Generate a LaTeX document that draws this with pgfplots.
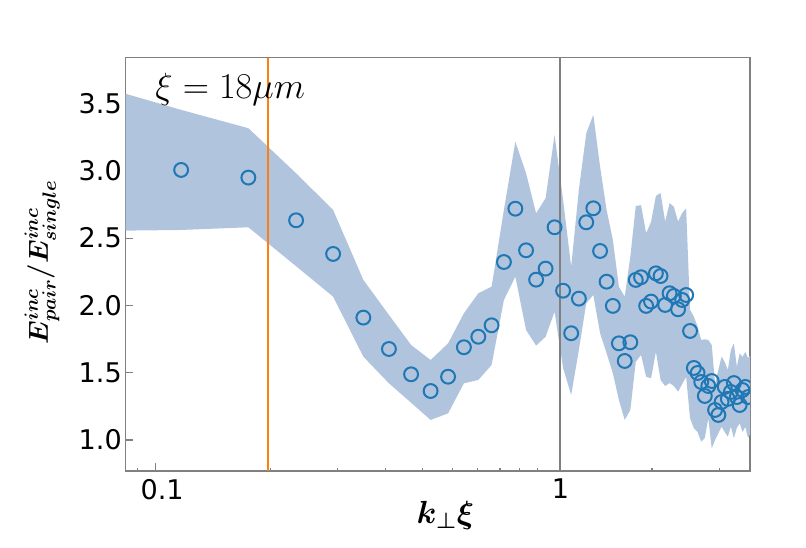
\documentclass[border=0pt]{standalone}
\usepackage{fix-cm}
\usepackage{fontspec}
\setmainfont{DejaVu Sans}
\usepackage{amsmath,bm}
\usepackage{pgfplots}
\pgfplotsset{compat=1.18}
\usepgfplotslibrary{fillbetween}
\usepackage{pgfplotstable}
\definecolor{band}{HTML}{B0C4DE}
\definecolor{mblue}{HTML}{1F77B4}
\definecolor{morange}{HTML}{FF7F0E}
\definecolor{spine}{HTML}{808080}

% x = n*0.0585, mean, upper, lower
\pgfplotstableread{
x y up lo
0.0585 3.100 3.700 2.550
0.1170 3.006 3.452 2.560
0.1755 2.949 3.316 2.580
0.2340 2.632 2.981 2.291
0.2925 2.382 2.709 2.065
0.3510 1.909 2.189 1.619
0.4095 1.676 1.929 1.421
0.4680 1.488 1.706 1.277
0.5265 1.364 1.594 1.149
0.5850 1.470 1.718 1.198
0.6435 1.689 1.941 1.421
0.7020 1.767 2.090 1.446
0.7605 1.852 2.139 1.557
0.8190 2.322 2.709 2.040
0.8775 2.718 3.216 2.213
0.9360 2.409 2.981 1.817
0.9945 2.191 2.684 1.701
1.0530 2.273 2.796 1.767
1.1115 2.580 3.266 1.953
1.1700 2.109 2.783 1.535
1.2285 1.793 2.288 1.334
1.2870 2.050 2.860 1.669
1.3455 2.617 3.278 2.016
1.4040 2.721 3.415 2.077
1.4625 2.404 3.030 1.793
1.5210 2.176 2.709 1.644
1.5795 1.996 2.486 1.496
1.6380 1.718 2.139 1.297
1.6965 1.587 2.065 1.149
1.7550 1.726 2.362 1.223
1.8135 2.189 2.738 1.580
1.8720 2.209 2.744 1.632
1.9305 1.996 2.536 1.470
1.9890 2.028 2.620 1.458
2.0475 2.238 2.813 1.654
2.1060 2.218 2.835 1.446
2.1645 2.003 2.622 1.401
2.2230 2.090 2.759 1.423
2.2815 2.070 2.733 1.401
2.3400 1.971 2.622 1.359
2.3985 2.040 2.686 1.416
2.4570 2.077 2.721 1.468
2.5155 1.810 1.966 1.161
2.5740 1.535 1.916 1.087
2.6325 1.498 1.842 1.059
2.6910 1.431 1.743 0.987
2.7495 1.327 1.748 1.015
2.8080 1.401 1.743 1.161
2.8665 1.438 1.706 0.938
2.9250 1.223 1.421 1.000
2.9835 1.186 1.520 1.050
3.0420 1.282 1.619 1.099
3.1005 1.394 1.579 1.059
3.1590 1.305 1.520 1.025
3.2175 1.357 1.669 1.099
3.2760 1.423 1.718 1.013
3.3345 1.319 1.545 1.089
3.3930 1.260 1.644 1.124
3.4515 1.371 1.617 1.059
3.5100 1.394 1.654 1.097
3.5685 1.319 1.609 1.015
3.6270 1.201 1.632 1.052
}\data

\begin{document}
\begin{tikzpicture}
\begin{axis}[
  scale only axis,
  width=468.2pt, height=310pt,
  xmode=log,
  xmin=0.08379, xmax=3.611,
  ymin=0.7697, ymax=3.840,
  clip marker paths=true,
  axis line style={spine, line width=1pt},
  tick align=inside,
  xtick pos=bottom, ytick pos=left,
  major tick length=5.8pt, minor tick length=2.5pt,
  tick style={spine, line width=0.8pt},
  xtick={0.1,1.151},
  xticklabels={{\hspace*{10.5pt}0.1},1},
  minor xtick={0.09,0.2,0.3,0.4,0.5,0.6,0.7,0.8,0.9,1,2,3},
  ytick={1.0,1.5,2.0,2.5,3.0,3.5},
  yticklabel style={/pgf/number format/fixed, /pgf/number format/fixed zerofill,
    /pgf/number format/precision=1, /pgf/number format/assume math mode=true,
    inner xsep=2.8pt},
  tick label style={font=\fontsize{20.3}{24}\selectfont, black},
  xticklabel style={inner ysep=6pt},
  xlabel={$\boldsymbol{k_{\perp}\xi}$},
  xlabel style={font=\fontsize{24}{28}\selectfont, at={(axis description cs:0.512,-0.128)}, anchor=base},
  ylabel={$\boldsymbol{E^{inc}_{pair}/E^{inc}_{single}}$},
  ylabel style={font=\fontsize{20.6}{24}\selectfont, at={(axis description cs:-0.134,0.505)}, anchor=center},
]
\addplot[name path=up, draw=none, forget plot] table[x=x, y=up] {\data};
\addplot[name path=lo, draw=none, forget plot] table[x=x, y=lo] {\data};
\addplot[fill=band, draw=none] fill between[of=up and lo];

\addplot[morange, line width=1.5pt] coordinates {(0.1977,0.7697) (0.1977,3.840)};
\addplot[spine, line width=1.5pt] coordinates {(1.151,0.7697) (1.151,3.840)};

\addplot[only marks, mark=o, mark size=5.2pt, mark options={mblue, line width=1.5pt}] table[x=x, y=y] {\data};

\node[anchor=base west, font=\fontsize{27.3}{32}\selectfont, inner sep=0pt] at (axis cs:0.1,3.54) {$\xi = 18\mu m$};
\coordinate (O) at (rel axis cs:0,0);
\end{axis}
\pgfresetboundingbox
\path[use as bounding box] ([shift={(-94.3pt,-57.75pt)}]O) rectangle ([shift={(510.2pt,353.25pt)}]O);
\end{tikzpicture}
\end{document}
